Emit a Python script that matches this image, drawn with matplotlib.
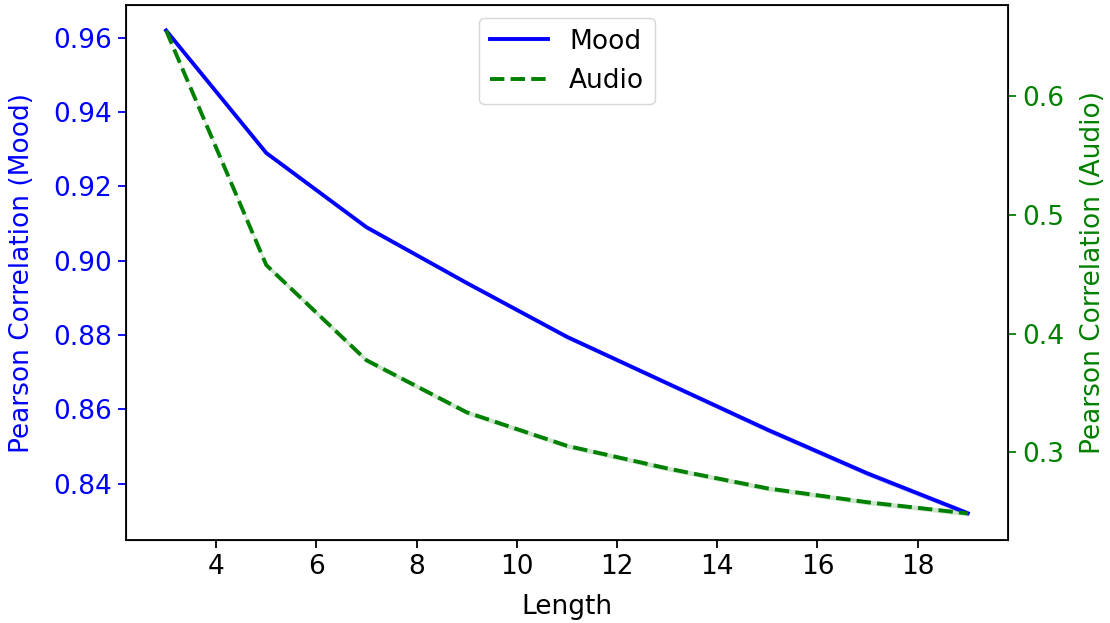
import matplotlib
matplotlib.use("Agg")
import matplotlib.pyplot as plt
import numpy as np

lengths = [3, 5, 7, 9, 11, 13, 15, 17, 19]
mood = [0.962, 0.929, 0.909, 0.894, 0.8795, 0.867, 0.8545, 0.8427, 0.832]
mood_std = [0.0003, 0.0004, 0.0005, 0.0005, 0.0006, 0.0006, 0.0007, 0.0007, 0.0007]
audio = [0.655, 0.4576, 0.3775, 0.3337, 0.3055, 0.2865, 0.2697, 0.258, 0.2486]
audio_std = [0.001, 0.002, 0.002, 0.002, 0.002, 0.002, 0.002, 0.002, 0.002]

fs = 19
fig = plt.figure(figsize=(11.1, 6.23), dpi=100)
ax = fig.add_axes([0.1135, 0.133, 0.7945, 0.859])
ax2 = ax.twinx()

x = np.array(lengths)
m = np.array(mood); ms = np.array(mood_std)
a = np.array(audio); as_ = np.array(audio_std)

l1, = ax.plot(x, m, color="blue", lw=2.8, label="Mood")
ax.fill_between(x, m - ms, m + ms, color="blue", alpha=0.2, lw=0)
l2, = ax2.plot(x, a, color="green", lw=2.8, ls="--", label="Audio")
ax2.fill_between(x, a - as_, a + as_, color="green", alpha=0.2, lw=0)

ax.set_xlabel("Length", fontsize=fs, labelpad=10)
ax.set_ylabel("Pearson Correlation (Mood)", color="blue", fontsize=fs, labelpad=13)
ax2.set_ylabel("Pearson Correlation (Audio)", color="green", fontsize=fs, labelpad=12)
ax.tick_params(axis="y", colors="blue", labelsize=fs, length=6, width=1.3, pad=4)
ax.tick_params(axis="x", labelsize=fs, length=6, width=1.3, pad=4)
ax2.tick_params(axis="y", colors="green", labelsize=fs, length=6, width=1.3, pad=4)
ax.set_xticks([4, 6, 8, 10, 12, 14, 16, 18])
ax.set_yticks([0.84, 0.86, 0.88, 0.90, 0.92, 0.94, 0.96])
ax.set_yticklabels(["0.84", "0.86", "0.88", "0.90", "0.92", "0.94", "0.96"])
ax2.set_yticks([0.3, 0.4, 0.5, 0.6])
for sp in ax2.spines.values():
    sp.set_linewidth(1.3)

ax.legend([l1, l2], ["Mood", "Audio"], loc="upper center", fontsize=fs,
          bbox_to_anchor=(0.5, 1.0), handlelength=2.2)

fig.savefig("out.png", dpi=100)
